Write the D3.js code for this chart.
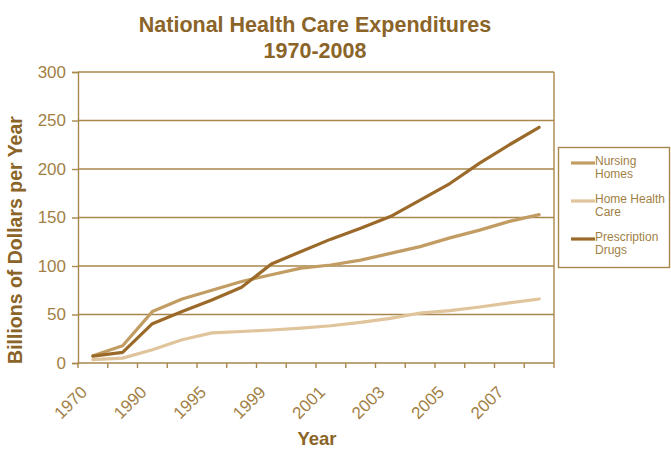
<!DOCTYPE html>
<html>
<head>
<meta charset="utf-8">
<script src="https://cdn.jsdelivr.net/npm/d3@7"></script>
<style>
  body { margin: 0; background: #fff; }
  text { font-family: "Liberation Sans", Arial, sans-serif; }
</style>
</head>
<body>
<svg id="chart" width="671" height="449"></svg>
<script>
// Category slots along the x axis (labels are shown on every other slot)
const years = ["1970","1980","1990","1993","1995","1997","1999","2000","2001","2002","2003","2004","2005","2006","2007","2008"];
const tickLabels = ["1970","1990","1995","1999","2001","2003","2005","2007"];

// Spending, billions of dollars per year
const nursingHomes      = [7.5, 17.8, 53, 66, 75, 84, 91, 97.8, 101, 106, 113, 120, 129, 137, 146, 153];
const homeHealthCare    = [3.4, 5, 13.7, 24, 31, 32.5, 34, 36, 38.4, 41.8, 46, 51.5, 54, 57.7, 62, 66];
const prescriptionDrugs = [7, 11, 40.5, 53, 65, 78, 102, 115, 127.7, 139, 151, 168, 185, 206, 225, 243];

const yTicks = [0, 50, 100, 150, 200, 250, 300];

const series = [
  { name: ["Nursing", "Homes"], values: nursingHomes, color: "#c29d63" },
  { name: ["Home Health", "Care"], values: homeHealthCare, color: "#dfc49c" },
  { name: ["Prescription", "Drugs"], values: prescriptionDrugs, color: "#9b6a2a" }
];

const svg = d3.select("#chart");
const plot = { left: 78, right: 554, top: 72, bottom: 363 };

const x = d3.scaleBand().domain(years).range([plot.left, plot.right]).padding(0);
const y = d3.scaleLinear().domain([0, 300]).range([plot.bottom, plot.top]);

const gridColor = "#a8874c";
const textColor = "#a27f45";
const titleColor = "#8a6428";

// Title
svg.append("text").attr("x", 315).attr("y", 32).attr("text-anchor", "middle")
  .attr("font-size", 21.5).attr("font-weight", "bold").attr("fill", titleColor)
  .text("National Health Care Expenditures");
svg.append("text").attr("x", 315).attr("y", 58).attr("text-anchor", "middle")
  .attr("font-size", 21.5).attr("font-weight", "bold").attr("fill", titleColor)
  .text("1970-2008");

// Horizontal gridlines
svg.append("g").selectAll("line").data(yTicks.filter(d => d > 0)).join("line")
  .attr("x1", plot.left).attr("x2", plot.right)
  .attr("y1", d => y(d)).attr("y2", d => y(d))
  .attr("stroke", gridColor).attr("stroke-width", 1.4);

// Right border of the plot area
svg.append("line").attr("x1", plot.right).attr("x2", plot.right)
  .attr("y1", plot.top).attr("y2", plot.bottom)
  .attr("stroke", gridColor).attr("stroke-width", 1.4);

// Y axis
const yAxis = d3.axisLeft(y).tickValues(yTicks).tickSize(6).tickPadding(6);
const gy = svg.append("g").attr("transform", `translate(${plot.left},0)`).call(yAxis);
gy.select(".domain").attr("stroke", gridColor).attr("stroke-width", 1.4);
gy.selectAll(".tick line").attr("stroke", gridColor).attr("stroke-width", 1.4);
gy.selectAll(".tick text").attr("font-size", 17).attr("fill", textColor)
  .attr("font-family", "Liberation Sans, Arial, sans-serif");

// X axis: ticks on category boundaries
const boundaries = d3.range(years.length + 1).map(i => plot.left + i * x.bandwidth());
svg.append("line").attr("x1", plot.left).attr("x2", plot.right)
  .attr("y1", plot.bottom).attr("y2", plot.bottom)
  .attr("stroke", gridColor).attr("stroke-width", 1.4);
svg.append("g").selectAll("line").data(boundaries).join("line")
  .attr("x1", d => d).attr("x2", d => d)
  .attr("y1", plot.bottom).attr("y2", plot.bottom + 5)
  .attr("stroke", gridColor).attr("stroke-width", 1.4);

// Rotated year labels on every other category
svg.append("g").selectAll("text").data(tickLabels).join("text")
  .attr("transform", d => `translate(${x(d) + x.bandwidth() / 2 - 9},${plot.bottom + 26}) rotate(-45)`)
  .attr("text-anchor", "end").attr("dy", "0.35em")
  .attr("font-size", 17).attr("fill", textColor)
  .text(d => d);

// Axis titles
svg.append("text").attr("x", 317).attr("y", 445).attr("text-anchor", "middle")
  .attr("font-size", 18.5).attr("font-weight", "bold").attr("fill", titleColor)
  .text("Year");
svg.append("text").attr("transform", "translate(22,240) rotate(-90)")
  .attr("text-anchor", "middle")
  .attr("font-size", 19.5).attr("font-weight", "bold").attr("fill", titleColor)
  .text("Billions of Dollars per Year");

// Series lines
const line = d3.line()
  .x((d, i) => x(years[i]) + x.bandwidth() / 2)
  .y(d => y(d));

svg.append("g").selectAll("path").data(series).join("path")
  .attr("d", s => line(s.values))
  .attr("fill", "none")
  .attr("stroke", s => s.color)
  .attr("stroke-width", 3.2)
  .attr("stroke-linejoin", "round")
  .attr("stroke-linecap", "round");

// Legend
const legend = svg.append("g");
legend.append("rect").attr("x", 558.5).attr("y", 147.5).attr("width", 111).attr("height", 120)
  .attr("fill", "#fff").attr("stroke", gridColor).attr("stroke-width", 1.4);
const legendRows = [163, 201, 239];
series.forEach((s, i) => {
  const ly = legendRows[i];
  legend.append("line").attr("x1", 571).attr("x2", 595).attr("y1", ly).attr("y2", ly)
    .attr("stroke", s.color).attr("stroke-width", 3.2);
  const t = legend.append("text").attr("x", 595).attr("y", ly + 2)
    .attr("font-size", 12).attr("fill", textColor);
  s.name.forEach((n, j) => {
    t.append("tspan").attr("x", 595).attr("dy", j === 0 ? 0 : 13).text(n);
  });
});
</script>
</body>
</html>
